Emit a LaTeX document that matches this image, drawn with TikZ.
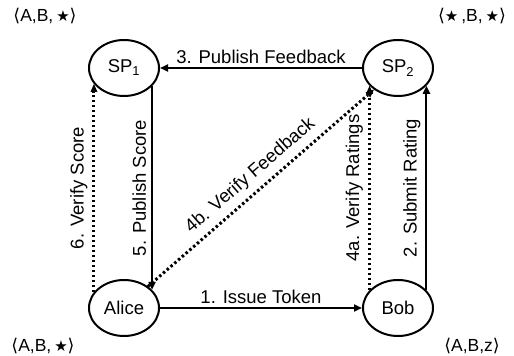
\documentclass[tikz,border=0pt]{standalone}
\usepackage{fontspec}
\setmainfont{Liberation Sans}
\newfontfamily\symfont{DejaVu Sans}
\usetikzlibrary{shapes.geometric,arrows.meta}
\tikzset{
  party/.style={draw, ellipse, line width=2pt, minimum width=70pt, minimum height=56pt,
    inner sep=0pt, font=\fontsize{18.5}{22}\selectfont},
  flow/.style={line width=2pt, -{Triangle[length=8pt,width=7pt]}},
  check/.style={line width=3pt, dash pattern=on 2.5pt off 2.5pt,
    -{Triangle[length=8pt,width=7pt,line width=0pt]}},
  lbl/.style={font=\fontsize{18.5}{22}\selectfont, inner sep=3pt},
  vlbl/.style={lbl, midway, rotate=90, anchor=south, inner sep=5pt},
  tuple/.style={font=\fontsize{17.5}{20}\selectfont, inner sep=0pt}
}
\newcommand{\tup}[3]{{\symfont ⟨}#1,#2,#3{\symfont ⟩}}
\newcommand{\stc}{{\symfont\fontsize{15}{18}\selectfont ★}}
\newcommand{\st}{\,\stc}
\begin{document}
\begin{tikzpicture}[x=1pt,y=1pt]
  \useasboundingbox (0,0) rectangle (514,356);

  % the four parties
  \node[party] (sp1)   at (124,288) {SP\textsubscript{1}};
  \node[party] (sp2)   at (398,288) {SP\textsubscript{2}};
  \node[party] (alice) at (124,48)  {Alice};
  \node[party] (bob)   at (398,48)  {Bob};

  % what each party learns
  \node[tuple] (tsp1)   at (45,340)  {\tup{A}{B}{\st}};
  \node[tuple] (tsp2)   at (472,340) {\tup{\stc\,}{B}{\st}};
  \node[tuple] (talice) at (43,10)   {\tup{A}{B}{\st}};
  \node[tuple] (tbob)   at (472,10)  {\tup{A}{B}{z}};

  % protocol steps
  \draw[flow] (alice) -- node[lbl, above] {1. Issue Token} (bob);
  \draw[flow] (bob.32) -- node[vlbl] {2. Submit Rating} (bob.32 |- sp2.-32);
  \draw[flow] (sp2) -- node[lbl, above] {3. Publish Feedback} (sp1);
  \draw[check] (bob.148) -- node[vlbl] {4a. Verify Ratings} (bob.148 |- sp2.-148);
  \draw[check] (alice.42) -- node[lbl, midway, above, sloped, inner sep=6pt] {4b. Verify Feedback} (sp2.222);
  \draw[flow] (sp1.-33) -- (sp1.-33 |- alice.33)
    node[vlbl, pos=0.5] {5. Publish Score};
  \draw[check] (alice.152) -- node[vlbl] {6. Verify Score} (alice.152 |- sp1.-152);
\end{tikzpicture}
\end{document}
